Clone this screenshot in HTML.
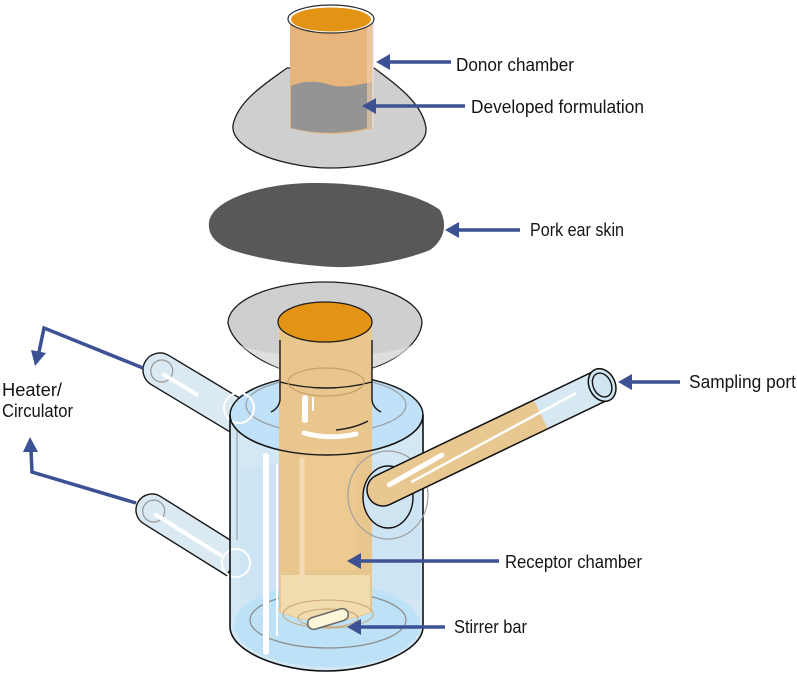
<!DOCTYPE html>
<html><head><meta charset="utf-8"><style>
html,body{margin:0;padding:0;background:#fff;}
svg{display:block;}
text{font-family:"Liberation Sans",Arial,sans-serif;font-size:18px;fill:#151515;}
</style></head><body>
<svg width="797" height="674" viewBox="0 0 797 674" xmlns="http://www.w3.org/2000/svg">
<!-- ===== Donor chamber ===== -->
<path d="M287,68 C268,82 238,100 233,125 C230,152 292,168 330,168 C380,168 428,152 426,128 C423,104 396,84 374,68 Z" fill="#d0cfd0" stroke="#1e1e1e" stroke-width="1.3"/>
<path d="M290,18 L290,128 Q331,140 373,128 L373,18 Z" fill="#e7b47c"/>
<path d="M291,86 C305,80 318,81 331,85 C345,89 360,84 372,82 L372,127 Q331,138 291,128 Z" fill="#949494"/>
<rect x="367" y="20" width="5" height="108" fill="#f1d3b0" opacity="0.6"/>
<line x1="373" y1="20" x2="373" y2="128" stroke="#e0e0e0" stroke-width="1.5"/>
<ellipse cx="331" cy="19" rx="43" ry="14" fill="#fff" stroke="#2a2a2a" stroke-width="1.2"/>
<ellipse cx="331" cy="19.5" rx="40" ry="12" fill="#e39414"/>

<!-- ===== Pork ear skin ===== -->
<path d="M209,222 C212,200 260,184 310,183 C370,182 420,195 440,210 C448,225 444,240 430,250 C400,262 360,268 335,267 C290,265 240,255 225,247 C212,240 208,232 209,222 Z" fill="#595757"/>

<!-- ===== Left pipes ===== -->
<g transform="translate(160,370) rotate(31)">
  <path d="M0,-17 L92,-17 L92,17 L0,17 A17,17 0 0 1 0,-17 Z" fill="#dbe9f2" stroke="#161616" stroke-width="1.4"/>
  <circle cx="2" cy="0" r="11" fill="none" stroke="#9a9a9a" stroke-width="1.3"/>
  <line x1="6" y1="2" x2="44" y2="2" stroke="#fff" stroke-width="4" stroke-linecap="round"/>
</g>
<g transform="translate(152,510) rotate(32)">
  <path d="M0,-16 L98,-16 L98,16 L0,16 A16,16 0 0 1 0,-16 Z" fill="#dbe9f2" stroke="#161616" stroke-width="1.4"/>
  <circle cx="2" cy="0" r="11" fill="none" stroke="#9a9a9a" stroke-width="1.3"/>
  <line x1="6" y1="2" x2="82" y2="2" stroke="#fff" stroke-width="4" stroke-linecap="round"/>
</g>

<!-- ===== Jacket ===== -->
<path d="M230,415 L230,628 C232,652 280,671 326,671 C372,671 421,652 423,628 L423,415 A96.5,40 0 0 0 230,415 Z" fill="#d3e7f4"/>
<path d="M240,470 C280,460 300,470 330,462 C370,455 400,470 420,465 L420,600 L240,600 Z" fill="#c9e3f4" opacity="0.6"/>
<ellipse cx="326.5" cy="415" rx="96.5" ry="40" fill="#c0e1f7" stroke="#1a1a1a" stroke-width="1.5"/>
<ellipse cx="326" cy="405" rx="80" ry="28" fill="none" stroke="#9aa3a8" stroke-width="1.3"/>
<!-- bottom basin -->
<ellipse cx="327" cy="625" rx="93" ry="42" fill="#bde2f8"/>
<ellipse cx="328" cy="620" rx="78" ry="28" fill="none" stroke="#8d8d8d" stroke-width="1.3"/>

<!-- white circles at pipe joints -->
<circle cx="239" cy="408" r="15" fill="none" stroke="#fff" stroke-width="2"/>
<circle cx="236" cy="563" r="14" fill="none" stroke="#fff" stroke-width="2"/>
<line x1="237" y1="428" x2="237" y2="540" stroke="#9aa3a8" stroke-width="1.2"/>

<!-- ===== Funnel (receptor top) ===== -->
<path d="M228,323 C232,345 262,362 279,368 L372,368 C392,362 420,345 422,323 A97,41 0 0 0 228,323 Z" fill="#d0cfd0" stroke="#1e1e1e" stroke-width="1.3"/>
<path d="M240,345 C262,362 279,368 279,368 L372,368 C390,362 410,350 412,345 C380,360 270,360 240,345 Z" fill="#e4e4e4" opacity="0.7"/>

<!-- ===== Inner receptor tube ===== -->
<path d="M279,322 L279,612 Q326,632 372,612 L372,322 Z" fill="#e9c68d"/>
<path d="M281,575 L370,575 L370,612 Q326,630 281,612 Z" fill="#f0dcae"/>
<rect x="300" y="450" width="55" height="120" fill="#f0cd95" opacity="0.6"/>
<!-- neck lines -->
<path d="M280,340 L280,400 Q279,408 271,412" fill="none" stroke="#1a1a1a" stroke-width="1.4"/>
<path d="M372,340 L372,400 Q373,408 381,412" fill="none" stroke="#1a1a1a" stroke-width="1.4"/>
<path d="M280,382 Q326,394 372,382" fill="none" stroke="#1a1a1a" stroke-width="1.4"/>
<ellipse cx="326" cy="382" rx="38" ry="14" fill="none" stroke="#c6a16a" stroke-width="1.2"/>
<!-- front arc of jacket top -->
<path d="M230,415 A96.5,40 0 0 0 423,415" fill="none" stroke="#1a1a1a" stroke-width="1.5"/>
<!-- orange top -->
<ellipse cx="325" cy="322" rx="47" ry="20" fill="#e39414" stroke="#1e1e1e" stroke-width="1.3"/>
<!-- highlights on tube -->
<line x1="305" y1="398" x2="305" y2="420" stroke="#fff" stroke-width="6" stroke-linecap="round"/>
<line x1="313" y1="398" x2="313" y2="410" stroke="#fff" stroke-width="2" stroke-linecap="round"/>
<path d="M304,433 Q330,440 356,434" fill="none" stroke="#fff" stroke-width="5" stroke-linecap="round"/>
<path d="M336,430 Q355,428 368,421" fill="none" stroke="#1a1a1a" stroke-width="1.5"/>
<line x1="302" y1="460" x2="302" y2="580" stroke="#f3dcb7" stroke-width="5" stroke-linecap="round"/>
<!-- inner rings around stirrer -->
<ellipse cx="328" cy="614" rx="45" ry="14" fill="none" stroke="#c9a672" stroke-width="1"/>
<ellipse cx="328" cy="618" rx="30" ry="9" fill="none" stroke="#c9a672" stroke-width="1"/>
<!-- stirrer bar -->
<g transform="translate(328,619) rotate(-17)">
  <rect x="-21" y="-6" width="42" height="12" rx="6" fill="#fbf7d8" stroke="#6a6a6a" stroke-width="1.5"/>
</g>

<!-- jacket outline sides -->
<path d="M230,415 L230,628 C232,652 280,671 326,671 C372,671 421,652 423,628 L423,415" fill="none" stroke="#111" stroke-width="1.6"/>
<!-- white highlight bars -->
<line x1="266" y1="456" x2="266" y2="652" stroke="#fff" stroke-width="6" stroke-linecap="round"/>
<line x1="277" y1="464" x2="277" y2="636" stroke="#fff" stroke-width="2"/>

<!-- ===== Right pipe (sampling port) ===== -->
<ellipse cx="388" cy="495" rx="40" ry="44" fill="none" stroke="#a0a0a0" stroke-width="1.2"/>
<ellipse cx="388" cy="497" rx="25" ry="31" fill="#cfe4f1" stroke="#111" stroke-width="1.4"/>
<g transform="translate(383,490) rotate(-25.6)">
  <path d="M0,-16 L243,-16 L243,16 L0,16 A16,16 0 0 1 0,-16 Z" fill="#d6e8f2"/>
  <path d="M0,-16 L175,-16 L175,16 L0,16 A16,16 0 0 1 0,-16 Z" fill="#e9c790"/>
  <path d="M243,-16 L0,-16 A16,16 0 0 0 0,16 L243,16" fill="none" stroke="#111" stroke-width="1.5"/>
  <ellipse cx="243" cy="0" rx="13" ry="17" fill="#d0e6f3" stroke="#111" stroke-width="1.5"/>
  <ellipse cx="243" cy="0" rx="9" ry="12.5" fill="#cfe5f2" stroke="#111" stroke-width="1.4"/>
  <line x1="8" y1="-2" x2="68" y2="-6" stroke="#fff" stroke-width="5" stroke-linecap="round"/>
  <line x1="30" y1="5" x2="215" y2="-4" stroke="#fff" stroke-width="2.5" stroke-linecap="round"/>
</g>

<!-- ===== Arrows ===== -->
<g stroke="#3d5195" stroke-width="3.5" fill="none">
  <line x1="451" y1="62" x2="388" y2="62"/>
  <line x1="465" y1="106" x2="374" y2="106"/>
  <line x1="520" y1="230" x2="457" y2="230"/>
  <line x1="680" y1="382" x2="630" y2="382"/>
  <line x1="499" y1="561" x2="359" y2="561"/>
  <line x1="445" y1="627" x2="359" y2="627"/>
  <polyline points="143,368 44,328 39,352"/>
  <polyline points="136,503 32,472 31,450"/>
</g>
<g fill="#3d5195">
  <polygon points="376,62 390,54 390,70"/>
  <polygon points="362,106 376,98 376,114"/>
  <polygon points="445,230 459,222 459,238"/>
  <polygon points="618,382 632,374 632,390"/>
  <polygon points="347,561 361,553 361,569"/>
  <polygon points="347,627 361,619 361,635"/>
  <polygon points="35,366 31,350 46,353"/>
  <polygon points="30,437 23,452 38,452"/>
</g>

<!-- ===== Labels ===== -->
<text x="456" y="71" textLength="118" lengthAdjust="spacingAndGlyphs">Donor chamber</text>
<text x="471" y="113" textLength="173" lengthAdjust="spacingAndGlyphs">Developed formulation</text>
<text x="530" y="236" textLength="94" lengthAdjust="spacingAndGlyphs">Pork ear skin</text>
<text x="689" y="388" textLength="107" lengthAdjust="spacingAndGlyphs">Sampling port</text>
<text x="2" y="396" textLength="60" lengthAdjust="spacingAndGlyphs">Heater/</text>
<text x="2" y="417" textLength="71" lengthAdjust="spacingAndGlyphs">Circulator</text>
<text x="505" y="568" textLength="137" lengthAdjust="spacingAndGlyphs">Receptor chamber</text>
<text x="454" y="633" textLength="73" lengthAdjust="spacingAndGlyphs">Stirrer bar</text>
</svg>
</body></html>
